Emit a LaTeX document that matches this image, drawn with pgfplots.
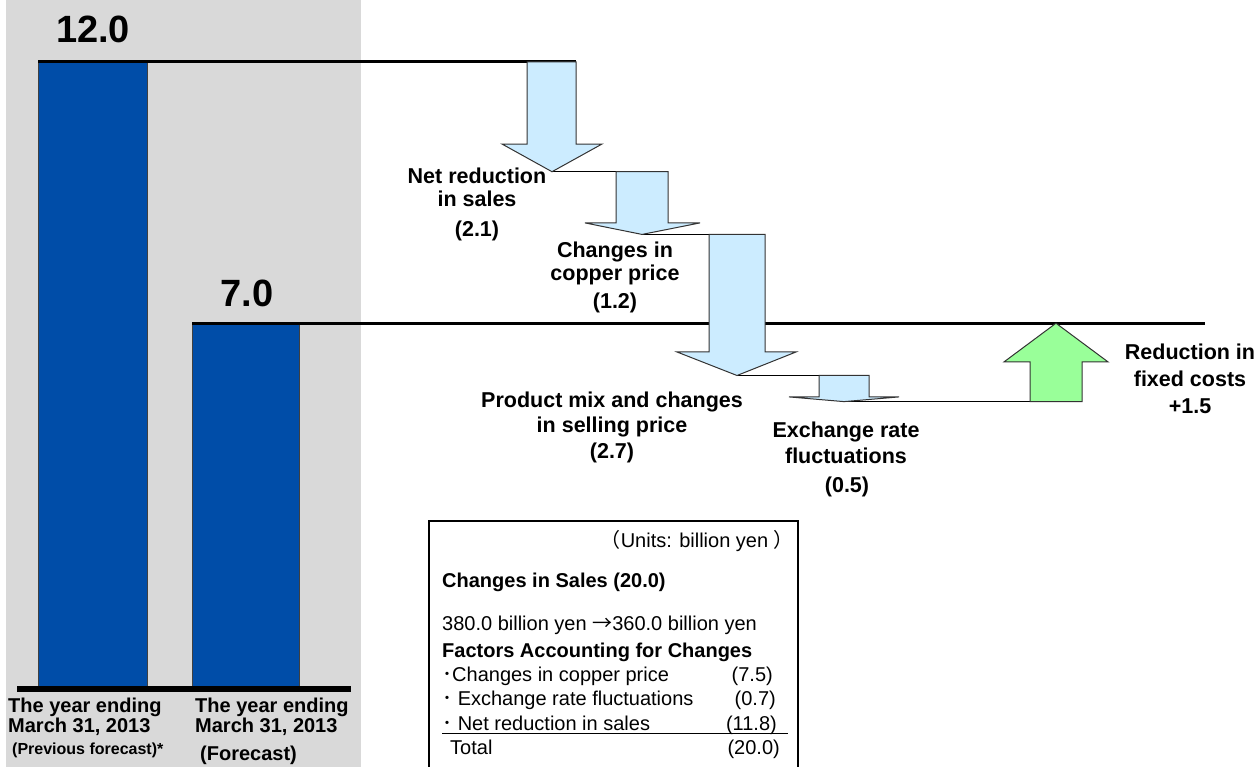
\documentclass[border=0pt]{standalone}
\usepackage{fontspec}
\setmainfont{Liberation Sans}
\newfontfamily\cjk{Noto Sans CJK JP}
\usepackage{pgfplots}
\pgfplotsset{compat=1.18}
\definecolor{bg}{RGB}{217,217,217}
\definecolor{barblue}{RGB}{0,77,168}
\definecolor{arrblue}{RGB}{204,236,255}
\definecolor{arrgreen}{RGB}{153,255,153}
\newcommand{\lab}{\fontsize{21.5}{25}\selectfont\bfseries}
\newcommand{\bignum}{\fontsize{38}{42}\selectfont\bfseries}
\newcommand{\cat}{\fontsize{20}{24}\selectfont\bfseries}
\newcommand{\catsm}{\fontsize{16}{20}\selectfont\bfseries}
\newcommand{\tb}{\fontsize{20}{24}\selectfont}
\begin{document}
\begin{tikzpicture}
\begin{axis}[scale only axis, width=1258pt, height=767pt,
  xmin=0, xmax=1258, ymin=-1.49282, ymax=13.18660,
  hide axis, clip=false, no markers]
% invisible frame so that the picture spans the full axis
\addplot[draw=none] coordinates {(0,-1.49282)(1258,13.1866)};
% grey panel behind the two totals
\addplot[fill=bg, draw=none] coordinates {(6,-1.49282)(6,13.1866)(361,13.1866)(361,-1.49282)} -- cycle;
% total bars
\addplot[ybar, bar width=109pt, fill=barblue, draw=black!75, line width=0.8pt] coordinates {(92.5,12.0)};
\addplot[ybar, bar width=107pt, fill=barblue, draw=black!75, line width=0.8pt] coordinates {(245.5,7.0)};
% level lines
\addplot[black, line width=3pt] coordinates {(38,12.0)(576,12.0)};
\addplot[black, line width=3pt] coordinates {(192,7.0)(1205,7.0)};
\addplot[black, line width=1.5pt] coordinates {(552,9.9)(668,9.9)};
\addplot[black, line width=1.5pt] coordinates {(643,8.7)(765,8.7)};
\addplot[black, line width=1.5pt] coordinates {(737,6.0)(868,6.0)};
\addplot[black, line width=1.5pt] coordinates {(844,5.5)(1078,5.5)};
\addplot[black, line width=6pt] coordinates {(17,0)(351,0)};
% step arrows
\addplot[fill=arrblue, draw=black!80, line width=1pt] coordinates {(527,12.0)(576,12.0)(576,10.43)(602,10.43)(552,9.9)(502,10.43)(527,10.43)} -- cycle;
\addplot[fill=arrblue, draw=black!80, line width=1pt] coordinates {(616,9.9)(668,9.9)(668,8.92)(700,8.92)(642,8.7)(585,8.92)(616,8.92)} -- cycle;
\addplot[fill=arrblue, draw=black!80, line width=1pt] coordinates {(709,8.7)(765,8.7)(765,6.45)(796,6.45)(737,6.0)(677,6.45)(709,6.45)} -- cycle;
\addplot[fill=arrblue, draw=black!80, line width=1pt] coordinates {(819,6.0)(869,6.0)(869,5.59)(899,5.59)(844,5.5)(789,5.59)(819,5.59)} -- cycle;
\addplot[fill=arrgreen, draw=black!80, line width=1pt] coordinates {(1030,5.5)(1082,5.5)(1082,6.26)(1108,6.26)(1056,7.0)(1004,6.26)(1030,6.26)} -- cycle;
% table box
\addplot[black, line width=2pt] coordinates {(429,-1.49282)(429,3.215)(798,3.215)(798,-1.49282)};
\addplot[black, line width=1pt] coordinates {(442,-0.849)(788,-0.849)};

% value labels
\node[anchor=base, inner sep=0pt, font=\bignum] at (axis cs:93,12.364) {12.0};
\node[anchor=base, inner sep=0pt, font=\bignum] at (axis cs:247,7.311) {7.0};
% factor labels
\node[anchor=base, inner sep=0pt, font=\lab] at (axis cs:477,9.684) {Net reduction};
\node[anchor=base, inner sep=0pt, font=\lab] at (axis cs:477,9.225) {in sales};
\node[anchor=base, inner sep=0pt, font=\lab] at (axis cs:477,8.651) {(2.1)};
\node[anchor=base, inner sep=0pt, font=\lab] at (axis cs:615,8.249) {Changes in};
\node[anchor=base, inner sep=0pt, font=\lab] at (axis cs:615,7.809) {copper price};
\node[anchor=base, inner sep=0pt, font=\lab] at (axis cs:615,7.273) {(1.2)};
\node[anchor=base, inner sep=0pt, font=\lab] at (axis cs:612,5.397) {Product mix and changes};
\node[anchor=base, inner sep=0pt, font=\lab] at (axis cs:612,4.900) {in selling price};
\node[anchor=base, inner sep=0pt, font=\lab] at (axis cs:612,4.402) {(2.7)};
\node[anchor=base, inner sep=0pt, font=\lab] at (axis cs:846,4.804) {Exchange rate};
\node[anchor=base, inner sep=0pt, font=\lab] at (axis cs:846,4.325) {fluctuations};
\node[anchor=base, inner sep=0pt, font=\lab] at (axis cs:847,3.770) {(0.5)};
\node[anchor=base, inner sep=0pt, font=\lab] at (axis cs:1190,6.297) {Reduction in};
\node[anchor=base, inner sep=0pt, font=\lab] at (axis cs:1190,5.780) {fixed costs};
\node[anchor=base, inner sep=0pt, font=\lab] at (axis cs:1190,5.282) {+1.5};
% category labels
\node[anchor=base west, inner sep=0pt, font=\cat] at (axis cs:8,-0.459) {The year ending};
\node[anchor=base west, inner sep=0pt, font=\cat] at (axis cs:8,-0.842) {March 31, 2013};
\node[anchor=base west, inner sep=0pt, font=\catsm] at (axis cs:12,-1.263) {(Previous forecast)*};
\node[anchor=base west, inner sep=0pt, font=\cat] at (axis cs:195,-0.459) {The year ending};
\node[anchor=base west, inner sep=0pt, font=\cat] at (axis cs:195,-0.842) {March 31, 2013};
\node[anchor=base west, inner sep=0pt, font=\cat] at (axis cs:200,-1.359) {(Forecast)};
% table text
\node[anchor=base east, inner sep=0pt, font=\tb] at (axis cs:794,2.699) {{\cjk （}Units: billion yen {\cjk ）}};
\node[anchor=base west, inner sep=0pt, font=\tb\bfseries] at (axis cs:442,1.933) {Changes in Sales (20.0)};
\node[anchor=base west, inner sep=0pt, font=\tb] at (axis cs:442,1.129) {380.0 billion yen {\cjk →}360.0 billion yen};
\node[anchor=base west, inner sep=0pt, font=\tb\bfseries] at (axis cs:442,0.612) {Factors Accounting for Changes};
\node[anchor=base west, inner sep=0pt, font=\tb] at (axis cs:442,0.134) {{\cjk ･}Changes in copper price};
\node[anchor=base west, inner sep=0pt, font=\tb] at (axis cs:442,-0.325) {{\cjk ･} Exchange rate fluctuations};
\node[anchor=base west, inner sep=0pt, font=\tb] at (axis cs:442,-0.785) {{\cjk ･} Net reduction in sales};
\node[anchor=base west, inner sep=0pt, font=\tb] at (axis cs:450,-1.263) {Total};
\node[anchor=base east, inner sep=0pt, font=\tb] at (axis cs:773,0.134) {(7.5)};
\node[anchor=base east, inner sep=0pt, font=\tb] at (axis cs:776,-0.325) {(0.7)};
\node[anchor=base east, inner sep=0pt, font=\tb] at (axis cs:777,-0.785) {(11.8)};
\node[anchor=base east, inner sep=0pt, font=\tb] at (axis cs:780,-1.263) {(20.0)};
\end{axis}
\end{tikzpicture}
\end{document}
